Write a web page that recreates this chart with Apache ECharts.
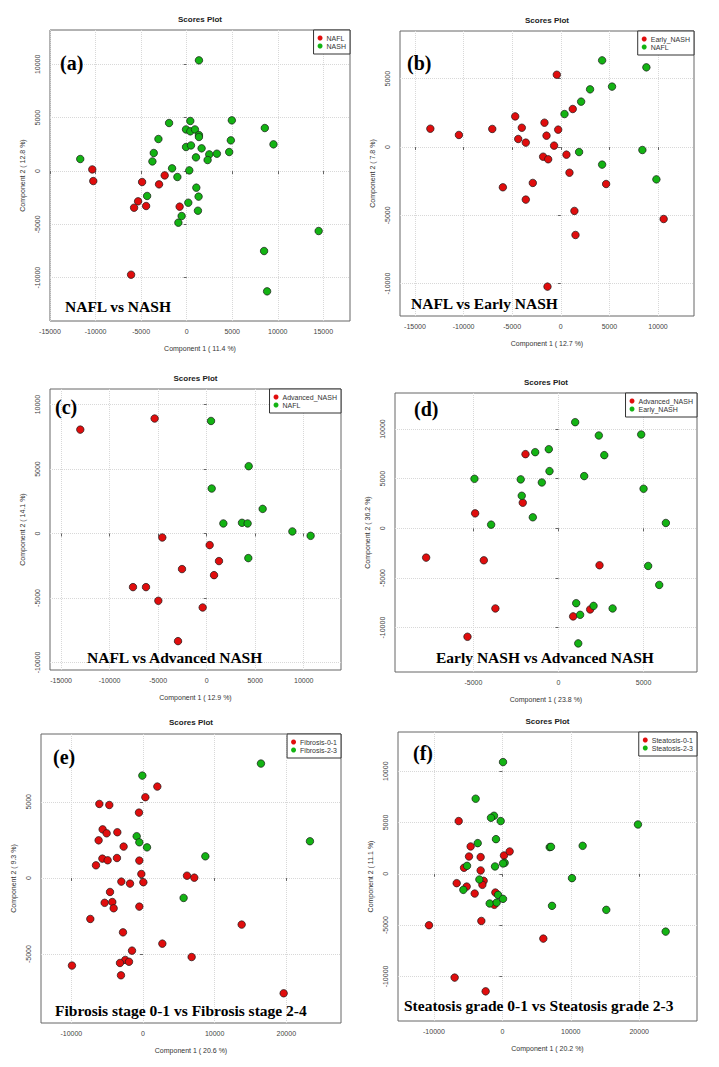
<!DOCTYPE html>
<html>
<head>
<meta charset="utf-8">
<script src="https://cdn.jsdelivr.net/npm/echarts@6/dist/echarts.min.js"></script>
<style>
html,body{margin:0;padding:0;background:#fff;}
#chart{width:719px;height:1067px;}
</style>
</head>
<body>
<div id="chart"></div>
<script>
// ---------- DATA ----------
// (a) NAFL vs NASH
const a_NAFL = [[-10360,150],[-10250,-940],[-4890,-1030],[-2410,-410],[-3030,-1250],[-5330,-2840],[-5770,-3440],[-4450,-3280],[-770,-3340],[-6100,-9720]];
const a_NASH = [[1350,10375],[-11680,1125],[-3100,3000],[-3610,1690],[-3760,900],[-1930,4500],[-1600,250],[-1020,-560],[-70,3900],[400,4690],[400,3720],[910,3900],[1350,3375],[1350,3190],[-70,2250],[475,2400],[1640,2125],[1020,1280],[2480,1560],[2300,1030],[3320,1625],[4670,1780],[4850,2875],[4960,4750],[290,60],[-4340,-2340],[1060,-1560],[1310,-2400],[180,-2970],[1240,-3720],[-550,-4220],[-910,-4840],[8580,4030],[9530,2500],[14490,-5625],[8500,-7500],[8830,-11280]];
// (b) NAFL vs Early NASH
const b_EarlyNASH = [[-13420,1340],[-10480,880],[-7050,1320],[-4690,2240],[-4010,1410],[-4380,585],[-3600,320],[-1680,1780],[-1470,830],[-690,100],[-270,1270],[-410,5290],[1230,2780],[-1820,-710],[-1300,-900],[580,-560],[890,-1880],[-5960,-2950],[-2880,-2630],[-3600,-3850],[4660,-2710],[1400,-4680],[1510,-6440],[-1370,-10220],[10580,-5270]];
const b_NAFL = [[4250,6340],[8800,5830],[3010,4220],[5270,4420],[2090,3320],[380,2410],[1880,-370],[8390,-220],[4250,-1290],[9830,-2370]];
// (c) NAFL vs Advanced NASH
const c_AdvNASH = [[-13020,8060],[-5360,8920],[-4570,-310],[310,-900],[1270,-2140],[-2540,-2760],[760,-3230],[-7590,-4160],[-6250,-4160],[-4980,-5220],[-410,-5740],[-2950,-8350]];
const c_NAFL = [[450,8730],[4330,5220],[520,3490],[5770,1910],[1720,780],[3640,830],[4220,780],[8830,160],[10710,-180],[4290,-1910]];
// (d) Early NASH vs Advanced NASH
const d_AdvNASH = [[-1940,7470],[-2100,2580],[-4900,1510],[-7780,-2950],[-4390,-3220],[-3710,-8070],[-5350,-10920],[2410,-3720],[1860,-8170],[860,-8870]];
const d_EarlyNASH = [[980,10690],[2370,9350],[4860,9450],[-1370,7670],[-570,7970],[2690,7370],[-530,5760],[1510,5260],[-4940,4990],[-2220,4930],[-980,4620],[-2160,3280],[5000,3990],[-1510,1110],[-3960,370],[6310,540],[5270,-3790],[5920,-5700],[1040,-7540],[2060,-7810],[3180,-8070],[1270,-8710],[1160,-11590]];
// (e) Fibrosis
const e_Fib01 = [[2000,6000],[330,5300],[-6090,4860],[-4700,4790],[-560,4290],[-5630,3190],[-5070,2930],[-3580,3000],[-6190,2470],[-2700,2060],[-5670,1270],[-4930,1160],[-3630,1310],[-6560,830],[-510,1140],[-230,260],[6140,150],[7160,20],[-3020,-240],[-1810,-370],[50,-280],[-4600,-920],[-4280,-1580],[-5350,-1630],[-4090,-1990],[-510,-1880],[-7350,-2690],[-2790,-3570],[13770,-3060],[2700,-4310],[-1530,-4770],[-2470,-5380],[-3210,-5580],[-1950,-5500],[-3070,-6390],[6790,-5190],[-9910,-5750],[19630,-7570]];
const e_Fib23 = [[-90,6720],[16460,7510],[-880,2740],[-510,2340],[560,2010],[8700,1420],[23300,2410],[5670,-1310]];
// (f) Steatosis
const f_Ste01 = [[-6380,5140],[-4630,2670],[-4870,1690],[-3170,1630],[240,1790],[1070,2180],[-5600,590],[-3170,330],[-6670,-910],[-5210,-1240],[-2730,-680],[-2920,-1070],[-4040,-1920],[-1020,-1820],[-1170,-3020],[-3070,-4590],[-10720,-5010],[5990,-6310],[-6970,-10110],[-2440,-11450]];
const f_Ste23 = [[100,10890],[-3900,7320],[-1220,5660],[-1660,5460],[-240,5140],[-3600,2990],[-930,3380],[6920,2600],[7110,2630],[11740,2730],[19820,4810],[-5160,780],[-1070,720],[340,1070],[100,1010],[-3360,-550],[-5700,-1560],[-630,-2050],[-1850,-2890],[-830,-2800],[100,-2440],[10180,-420],[7260,-3120],[15190,-3510],[23870,-5630]];

// tick labels
const ticksA_x = [-15000,-10000,-5000,0,5000,10000,15000];
const ticksA_y = [-10000,-5000,0,5000,10000];
const ticksB_x = [-15000,-10000,-5000,0,5000,10000];
const ticksB_y = [-10000,-5000,0,5000];
const ticksC_x = [-15000,-10000,-5000,0,5000,10000];
const ticksC_y = [-10000,-5000,0,5000,10000];
const ticksD_x = [-5000,0,5000];
const ticksD_y = [-10000,-5000,0,5000,10000];
const ticksE_x = [-10000,0,10000,20000];
const ticksE_y = [-5000,0,5000];
const ticksF_x = [-10000,0,10000,20000];
const ticksF_y = [-10000,-5000,0,5000,10000];

// texts
const panelLetters = ['(a)','(b)','(c)','(d)','(e)','(f)'];
const panelTitles = ['NAFL vs NASH','NAFL vs Early NASH','NAFL vs Advanced NASH','Early NASH vs Advanced NASH','Fibrosis stage 0-1 vs Fibrosis stage 2-4','Steatosis grade 0-1 vs Steatosis grade 2-3'];
const xNames = ['Component 1 ( 11.4 %)','Component 1 ( 12.7 %)','Component 1 ( 12.9 %)','Component 1 ( 23.8 %)','Component 1 ( 20.6 %)','Component 1 ( 20.2 %)'];
const yNames = ['Component 2 ( 12.8 %)','Component 2 ( 7.8 %)','Component 2 ( 14.1 %)','Component 2 ( 36.2 %)','Component 2 ( 9.3 %)','Component 2 ( 11.1 %)'];
const groupNames = [['NAFL','NASH'],['Early_NASH','NAFL'],['Advanced_NASH','NAFL'],['Advanced_NASH','Early_NASH'],['Fibrosis-0-1','Fibrosis-2-3'],['Steatosis-0-1','Steatosis-2-3']];
const groupData = [[a_NAFL,a_NASH],[b_EarlyNASH,b_NAFL],[c_AdvNASH,c_NAFL],[d_AdvNASH,d_EarlyNASH],[e_Fib01,e_Fib23],[f_Ste01,f_Ste23]];
const tickSets = [[ticksA_x,ticksA_y],[ticksB_x,ticksB_y],[ticksC_x,ticksC_y],[ticksD_x,ticksD_y],[ticksE_x,ticksE_y],[ticksF_x,ticksF_y]];

// ---------- LAYOUT ----------
const grids = [
  {left:50, top:30, width:300, height:291},
  {left:400, top:31, width:294, height:285},
  {left:50, top:389, width:291, height:281},
  {left:395, top:393, width:302, height:279},
  {left:41, top:734, width:300, height:289},
  {left:398, top:732, width:299, height:289}
];
const xExt = [[-15000,17930],[-16540,13700],[-16140,13840],[-9610,8140],[-14230,27630],[-15250,28450]];
const yExt = [[-14060,13220],[-12370,8490],[-10590,11210],[-14470,13630],[-9520,9450],[-14340,13820]];
const letterPos = [[60,62.7],[407,63],[55,406.7],[414,409],[53,756.7],[413,753]];
const subPos = [[65,306],[411,303],[87,657],[436,657.7],[55,1010.7],[404,1005]];
const titleY = [19,20,378.3,382.3,722.3,721];
const COLORS = ['#e00d0d','#13b313'];
const plain = v => String(v);

const option = {
  animation:false,
  backgroundColor:'#fff',
  grid: grids.map(g => Object.assign({show:true, borderColor:'#666', borderWidth:1, backgroundColor:'transparent'}, g)),
  xAxis: grids.map((g,i) => ({
    gridIndex:i, type:'value', min:xExt[i][0], max:xExt[i][1],
    name:xNames[i], nameLocation:'middle', nameGap:24,
    nameTextStyle:{fontSize:7, color:'#333', fontFamily:'Liberation Sans'},
    axisLine:{show:false},
    axisTick:{show:true, length:3, lineStyle:{color:'#666'}, customValues:tickSets[i][0]},
    axisLabel:{fontSize:7, color:'#444', margin:7, fontFamily:'Liberation Sans', customValues:tickSets[i][0], formatter:plain},
    splitLine:{show:true, lineStyle:{color:'#d8d8d8', type:'dotted', width:1}}
  })),
  yAxis: grids.map((g,i) => ({
    gridIndex:i, type:'value', min:yExt[i][0], max:yExt[i][1],
    name:yNames[i], nameLocation:'middle', nameGap:24, nameRotate:90,
    nameTextStyle:{fontSize:7, color:'#333', fontFamily:'Liberation Sans'},
    axisLine:{show:false},
    axisTick:{show:true, length:3, lineStyle:{color:'#666'}, customValues:tickSets[i][1]},
    axisLabel:{fontSize:7, color:'#444', margin:9, rotate:90, fontFamily:'Liberation Sans', customValues:tickSets[i][1], formatter:plain},
    splitLine:{show:true, lineStyle:{color:'#d8d8d8', type:'dotted', width:1}}
  })),
  legend: grids.map((g,i) => ({
    orient:'vertical',
    right: 719 - (g.left + g.width),
    top: g.top,
    data: groupNames[i].map(n => 'p'+i+':'+n),
    formatter: name => name.split(':')[1],
    icon:'circle', itemWidth:5, itemHeight:5, itemGap:0, itemStyle:{borderWidth:0},
    padding:[4,4,4,4],
    backgroundColor:'#fff', borderColor:'#333', borderWidth:1,
    textStyle:{fontSize:7, color:'#333', lineHeight:8, fontFamily:'Liberation Sans', padding:[0,0,0,-1]},
    selectedMode:false
  })),
  series: [],
  graphic: []
};

groupData.forEach((pair,i) => {
  pair.forEach((data,k) => {
    option.series.push({
      type:'scatter', name:'p'+i+':'+groupNames[i][k],
      xAxisIndex:i, yAxisIndex:i, data:data,
      symbol:'circle', symbolSize:7.5,
      itemStyle:{color:COLORS[k], borderColor:'#1a1a1a', borderWidth:0.7, opacity:1},
      emphasis:{disabled:true}, silent:true
    });
  });
});

grids.forEach((g,i) => {
  option.graphic.push({
    type:'text', x:g.left + g.width/2, y:titleY[i], z:100,
    style:{text:'Scores Plot', font:'bold 8px "Liberation Sans"', fill:'#222', align:'center', verticalAlign:'middle', textAlign:'center', textVerticalAlign:'middle'}
  });
  option.graphic.push({
    type:'text', x:letterPos[i][0], y:letterPos[i][1], z:100,
    style:{text:panelLetters[i], font:'bold 20px "Liberation Serif"', fill:'#000', align:'left', verticalAlign:'middle', textAlign:'left', textVerticalAlign:'middle'}
  });
  option.graphic.push({
    type:'text', x:subPos[i][0], y:subPos[i][1], z:100,
    style:{text:panelTitles[i], font:'bold 15.5px "Liberation Serif"', fill:'#000', align:'left', verticalAlign:'middle', textAlign:'left', textVerticalAlign:'middle'}
  });
});

const chart = echarts.init(document.getElementById('chart'), null, {renderer:'svg'});
chart.setOption(option);
</script>
</body>
</html>
